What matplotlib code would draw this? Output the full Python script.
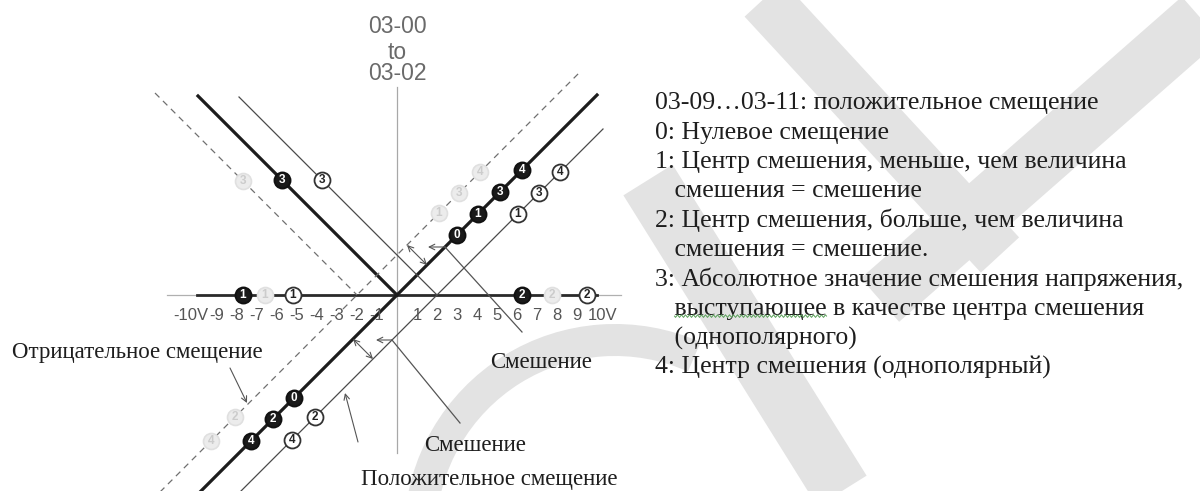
import matplotlib
matplotlib.use("Agg")
import numpy as np
import matplotlib.pyplot as plt
from matplotlib.patches import Arc

# ---------------- data (volts) ----------------
# characteristic lines y = slope * x + offset, drawn over [x_from, x_to]
line_kind = ["zero", "zero", "pos", "pos", "neg", "neg"]
line_slope = [-1, 1, -1, 1, -1, 1]
line_offset = [0, 0, 2, -2, -2, 2]
line_from = [-9.95, -10.3, -7.9, -8.3, -12.1, -12.0]
line_to = [0.0, 10.0, 2.0, 10.3, -2.0, 9.15]

# numbered bias-mode badges; line index -1 means the voltage axis itself
zero_badge_x = [-5.75, 3.0, 4.05, 5.15, 6.25, -5.15, -6.2, -7.3, -7.7, 6.25]
zero_badge_line = [0, 1, 1, 1, 1, 1, 1, 1, -1, -1]
zero_badge_text = ["3", "0", "1", "3", "4", "0", "2", "4", "1", "2"]

pos_badge_x = [-3.75, 6.05, 7.1, 8.15, -4.1, -5.25, -5.2, 9.5]
pos_badge_line = [2, 3, 3, 3, 3, 3, -1, -1]
pos_badge_text = ["3", "1", "3", "4", "2", "4", "1", "2"]

neg_badge_x = [-7.7, 2.1, 3.1, 4.15, -8.1, -9.3, -6.6, 7.75]
neg_badge_line = [4, 5, 5, 5, 5, 5, -1, -1]
neg_badge_text = ["3", "1", "3", "4", "2", "4", "1", "2"]

tick_values = [-10, -9, -8, -7, -6, -5, -4, -3, -2, -1, 1, 2, 3, 4, 5, 6, 7, 8, 9, 10]
tick_labels = ["-10V", "-9", "-8", "-7", "-6", "-5", "-4", "-3", "-2", "-1",
               "1", "2", "3", "4", "5", "6", "7", "8", "9", "10V"]

legend_lines = [
    "03-09…03-11: положительное смещение",
    "0: Нулевое смещение",
    "1: Центр смешения, меньше, чем величина",
    "   смешения = смешение",
    "2: Центр смешения, больше, чем величина",
    "   смешения = смешение.",
    "3: Абсолютное значение смешения напряжения,",
    "   выступающее в качестве центра смешения",
    "   (однополярного)",
    "4: Центр смешения (однополярный)",
]

# ---------------- canvas ----------------
W, H, DPI = 1200, 491, 100
PX = 20.0           # pixels per volt
X0, Y0 = 397, 295   # origin position on the canvas (px)

fig = plt.figure(figsize=(W / DPI, H / DPI), dpi=DPI)
ax = fig.add_axes([0, 0, 1, 1])
ax.set_xlim(-X0 / PX, (W - X0) / PX)
ax.set_ylim(-(H - Y0) / PX, Y0 / PX)
ax.axis("off")


def P(px, py):
    """canvas pixel -> data coordinates"""
    return (px - X0) / PX, (Y0 - py) / PX


SANS = ["Liberation Sans", "DejaVu Sans"]
SERIF = ["Liberation Serif", "DejaVu Serif"]

# ---------------- watermark ----------------
WM = "#e3e3e3"
for (a, b, w) in [((648, 180), (842, 491), 58),
                  ((1205, 15), (880, 300), 58),
                  ((760, -5), (1000, 255), 52)]:
    pa, pb = P(*a), P(*b)
    ax.plot([pa[0], pb[0]], [pa[1], pb[1]], color=WM, lw=w * 0.72,
            solid_capstyle="butt", zorder=0)
cx, cy = P(615, 535)
ax.add_patch(Arc((cx, cy), 2 * 195 / PX, 2 * 195 / PX, theta1=66, theta2=178,
                 color=WM, lw=32 * 0.72, zorder=0))

# ---------------- axes of the diagram ----------------
ax.plot([0, 0], [-7.9, 10.4], color="#a8a8a8", lw=0.9, zorder=1)
ax.plot([-11.5, 11.2], [0, 0], color="#b0b0b0", lw=0.9, zorder=1)
ax.plot([-10, 10], [0, 0], color="#2a2a2a", lw=2.0, zorder=2)

styles = {
    "zero": dict(color="#1c1c1c", lw=2.3, ls="-"),
    "pos": dict(color="#4a4a4a", lw=0.9, ls="-"),
    "neg": dict(color="#707070", lw=0.9, ls=(0, (5, 4))),
}
for k, m, b, x1, x2 in zip(line_kind, line_slope, line_offset, line_from, line_to):
    ax.plot([x1, x2], [m * x1 + b, m * x2 + b], zorder=2, **styles[k])

# tick labels
for v, t in zip(tick_values, tick_labels):
    xv = v + (0.3 * (1 if v > 0 else -1) if abs(v) == 10 else 0)
    ax.text(xv, -1.0, t, ha="center", va="center", fontsize=12,
            family=SANS, color="#555555", zorder=3)

# axis title
for txt, py in [("03-00", 33), ("to", 59), ("03-02", 80)]:
    ax.text(0, P(0, py)[1], txt, ha="center", va="baseline", fontsize=16.5,
            family=SANS, color="#6a6a6a")

# ---------------- badges ----------------
badge_style = {
    "zero": dict(face="#1a1a1a", edge="#111111", text="white", mew=1.4),
    "pos": dict(face="white", edge="#333333", text="#222222", mew=1.3),
    "neg": dict(face="#ececec", edge="#e0e0e0", text="#cccccc", mew=1.2),
}


def draw_badges(kind, xs, lines, texts):
    st = badge_style[kind]
    for x, li, t in zip(xs, lines, texts):
        y = 0.0 if li < 0 else line_slope[li] * x + line_offset[li]
        ax.plot(x, y, "o", ms=11.5, mfc=st["face"], mec=st["edge"], mew=st["mew"], zorder=4)
        ax.text(x, y, t, ha="center", va="center", fontsize=8.5, weight="bold",
                family=SANS, color=st["text"], zorder=5)


draw_badges("neg", neg_badge_x, neg_badge_line, neg_badge_text)
draw_badges("pos", pos_badge_x, pos_badge_line, pos_badge_text)
draw_badges("zero", zero_badge_x, zero_badge_line, zero_badge_text)

# ---------------- arrows and leaders ----------------
AC = "#555555"


def arrow(p_from, p_to, style="->"):
    ax.annotate("", xy=p_to, xytext=p_from,
                arrowprops=dict(arrowstyle=style, color=AC, lw=0.8,
                                shrinkA=0, shrinkB=0, mutation_scale=10), zorder=3)


arrow((1.5, 1.5), (0.5, 2.5), "<->")
arrow((2.4, 2.4), (1.55, 2.4))
arrow((-2.2, -2.2), (-1.2, -3.2), "<->")
arrow((-0.25, -2.25), (-1.05, -2.25))
ax.plot([2.4, 6.25], [2.4, -1.85], color=AC, lw=0.9, zorder=3)
ax.plot([-0.25, 3.15], [-2.25, -6.4], color=AC, lw=0.9, zorder=3)
arrow(P(230, 368), P(247, 403))
arrow(P(358, 442), P(345, 393))

# ---------------- labels ----------------
TXT = "#1e1e1e"
FS = 16.5
ax.text(*P(12, 350), "Отрицательное смещение", ha="left", va="center_baseline",
        fontsize=FS, family=SERIF, color=TXT)
ax.text(*P(541, 360), "Смешение", ha="center", va="center_baseline",
        fontsize=FS, family=SERIF, color=TXT)
ax.text(*P(475, 443), "Смешение", ha="center", va="center_baseline",
        fontsize=FS, family=SERIF, color=TXT)
ax.text(*P(489, 477), "Положительное смещение", ha="center", va="center_baseline",
        fontsize=FS, family=SERIF, color=TXT)

LX, LY, LS, LFS = 655, 101, 29.3, 18.5
for i, line in enumerate(legend_lines):
    ax.text(*P(LX, LY + i * LS), line, ha="left", va="center_baseline",
            fontsize=LFS, family=SERIF, color=TXT)

# spell-check squiggle under the word "выступающее"
fig.canvas.draw()
r = fig.canvas.get_renderer()
probe_pre = ax.text(*P(LX, LY + 7 * LS), "   ", fontsize=LFS, family=SERIF, alpha=0)
probe_word = ax.text(*P(LX, LY + 7 * LS), "   выступающее", fontsize=LFS, family=SERIF, alpha=0)
x_start = LX + probe_pre.get_window_extent(r).width
x_end = LX + probe_word.get_window_extent(r).width
probe_pre.remove()
probe_word.remove()
sx = np.arange(x_start, x_end, 1.0)
sy = LY + 7 * LS + 10 + 1.3 * np.sin((sx - x_start) * np.pi / 2.0)
ax.plot((sx - X0) / PX, (Y0 - sy) / PX, color="#5aa05a", lw=0.7, zorder=3)

fig.savefig("out.png", dpi=DPI, facecolor="white")
